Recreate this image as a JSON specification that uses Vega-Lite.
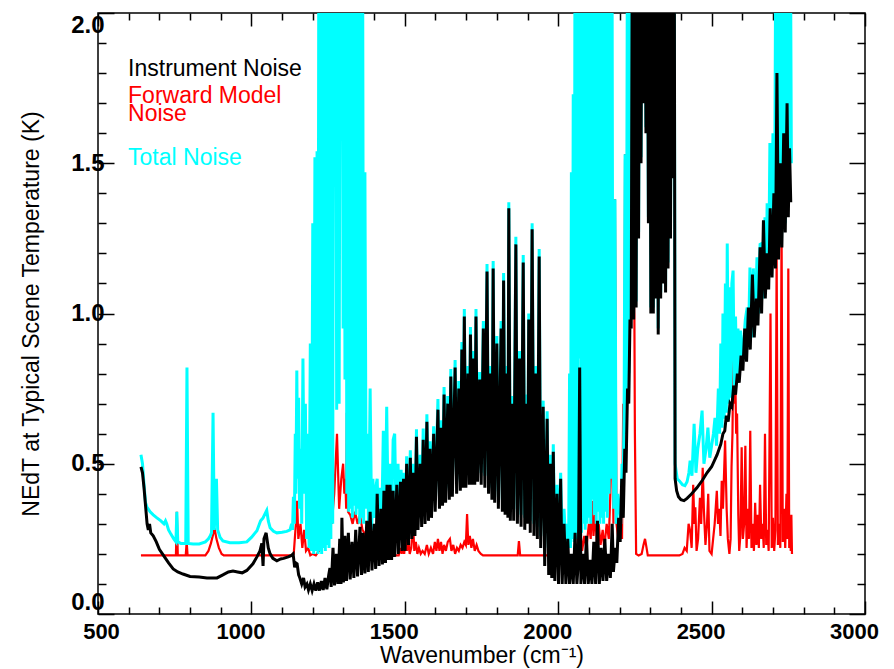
{
"$schema":"https://vega.github.io/schema/vega-lite/v6.json",
"width":767,"height":601,
"autosize":{"type":"none"},
"padding":{"left":98,"top":13,"right":29,"bottom":55},
"background":"white",
"config":{"view":{"stroke":"black","strokeWidth":1.5}},
"datasets":{
"fwd":[{"w":640,"v":0.195},{"w":754,"v":0.195},{"w":757,"v":0.34},{"w":760,"v":0.195},{"w":786,"v":0.195},{"w":789,"v":0.24},{"w":792,"v":0.195},{"w":850,"v":0.195},{"w":860,"v":0.21},{"w":868,"v":0.235},{"w":874,"v":0.26},{"w":880,"v":0.285},{"w":886,"v":0.25},{"w":894,"v":0.22},{"w":903,"v":0.2},{"w":910,"v":0.195},{"w":1130,"v":0.195},{"w":1138,"v":0.2},{"w":1145,"v":0.3},{"w":1149,"v":0.377},{"w":1153,"v":0.25},{"w":1160,"v":0.3},{"w":1166,"v":0.22},{"w":1172,"v":0.28},{"w":1178,"v":0.21},{"w":1185,"v":0.22},{"w":1192,"v":0.195},{"w":1200,"v":0.2},{"w":1210,"v":0.195},{"w":1220,"v":0.21},{"w":1230,"v":0.22},{"w":1240,"v":0.25},{"w":1246,"v":0.27},{"w":1250,"v":0.3},{"w":1256,"v":0.6},{"w":1262,"v":0.3},{"w":1270,"v":0.4},{"w":1279,"v":0.6},{"w":1286,"v":0.35},{"w":1293,"v":0.45},{"w":1299,"v":0.5},{"w":1303,"v":0.4},{"w":1306,"v":0.45},{"w":1309,"v":0.35},{"w":1311,"v":0.67},{"w":1315,"v":0.34},{"w":1322,"v":0.33},{"w":1330,"v":0.3},{"w":1338,"v":0.34},{"w":1346,"v":0.3},{"w":1354,"v":0.33},{"w":1362,"v":0.28},{"w":1370,"v":0.267},{"w":1376,"v":0.22},{"w":1385,"v":0.2},{"w":1400,"v":0.195},{"w":1480,"v":0.195},{"w":1486,"v":0.22},{"w":1490,"v":0.2},{"w":1494,"v":0.235},{"w":1498,"v":0.2},{"w":1503,"v":0.26},{"w":1507,"v":0.21},{"w":1512,"v":0.24},{"w":1516,"v":0.2},{"w":1521,"v":0.22},{"w":1527,"v":0.3},{"w":1531,"v":0.21},{"w":1536,"v":0.24},{"w":1541,"v":0.2},{"w":1546,"v":0.22},{"w":1552,"v":0.2},{"w":1558,"v":0.21},{"w":1565,"v":0.2},{"w":1572,"v":0.23},{"w":1578,"v":0.2},{"w":1585,"v":0.22},{"w":1592,"v":0.2},{"w":1598,"v":0.24},{"w":1603,"v":0.21},{"w":1608,"v":0.25},{"w":1613,"v":0.21},{"w":1618,"v":0.24},{"w":1623,"v":0.2},{"w":1628,"v":0.23},{"w":1634,"v":0.21},{"w":1640,"v":0.24},{"w":1647,"v":0.25},{"w":1652,"v":0.21},{"w":1658,"v":0.23},{"w":1664,"v":0.2},{"w":1670,"v":0.22},{"w":1676,"v":0.21},{"w":1682,"v":0.23},{"w":1688,"v":0.22},{"w":1694,"v":0.24},{"w":1699,"v":0.23},{"w":1703,"v":0.333},{"w":1707,"v":0.23},{"w":1712,"v":0.26},{"w":1717,"v":0.22},{"w":1722,"v":0.25},{"w":1728,"v":0.21},{"w":1734,"v":0.23},{"w":1740,"v":0.21},{"w":1748,"v":0.2},{"w":1755,"v":0.195},{"w":1868,"v":0.195},{"w":1872,"v":0.243},{"w":1876,"v":0.195},{"w":1990,"v":0.195},{"w":2000,"v":0.2},{"w":2010,"v":0.2},{"w":2020,"v":0.22},{"w":2030,"v":0.2},{"w":2040,"v":0.3},{"w":2048,"v":0.467},{"w":2054,"v":0.25},{"w":2060,"v":0.3},{"w":2066,"v":0.22},{"w":2072,"v":0.28},{"w":2078,"v":0.21},{"w":2085,"v":0.26},{"w":2092,"v":0.22},{"w":2100,"v":0.3},{"w":2106,"v":0.25},{"w":2110,"v":0.377},{"w":2115,"v":0.26},{"w":2120,"v":0.33},{"w":2126,"v":0.24},{"w":2132,"v":0.3},{"w":2138,"v":0.23},{"w":2145,"v":0.28},{"w":2150,"v":0.22},{"w":2158,"v":0.3},{"w":2165,"v":0.25},{"w":2170,"v":0.4},{"w":2176,"v":0.73},{"w":2180,"v":0.3},{"w":2185,"v":1.38},{"w":2190,"v":0.3},{"w":2196,"v":0.25},{"w":2202,"v":0.3},{"w":2208,"v":0.25},{"w":2212,"v":0.7},{"w":2215,"v":0.5},{"w":2218,"v":1.53},{"w":2222,"v":0.6},{"w":2228,"v":2.3},{"w":2234,"v":2.5},{"w":2240,"v":2.3},{"w":2244,"v":2.0},{"w":2250,"v":0.6},{"w":2254,"v":0.2},{"w":2262,"v":0.195},{"w":2272,"v":0.2},{"w":2278,"v":0.23},{"w":2283,"v":0.25},{"w":2288,"v":0.22},{"w":2292,"v":0.195},{"w":2395,"v":0.195},{"w":2405,"v":0.2},{"w":2412,"v":0.22},{"w":2419,"v":0.21},{"w":2425,"v":0.3},{"w":2430,"v":0.277},{"w":2435,"v":0.22},{"w":2440,"v":0.43},{"w":2444,"v":0.3},{"w":2447,"v":0.355},{"w":2451,"v":0.21},{"w":2456,"v":0.25},{"w":2462,"v":0.387},{"w":2466,"v":0.3},{"w":2471,"v":0.487},{"w":2475,"v":0.343},{"w":2480,"v":0.23},{"w":2485,"v":0.3},{"w":2489,"v":0.4},{"w":2493,"v":0.21},{"w":2500,"v":0.2},{"w":2505,"v":0.25},{"w":2510,"v":0.3},{"w":2517,"v":0.41},{"w":2521,"v":0.3},{"w":2525,"v":0.35},{"w":2529,"v":0.26},{"w":2533,"v":0.443},{"w":2537,"v":0.35},{"w":2544,"v":0.577},{"w":2549,"v":0.35},{"w":2553,"v":0.25},{"w":2558,"v":0.2},{"w":2562,"v":0.25},{"w":2565,"v":0.49},{"w":2568,"v":0.6},{"w":2571,"v":0.866},{"w":2574,"v":0.7},{"w":2577,"v":0.81},{"w":2580,"v":0.6},{"w":2583,"v":0.667},{"w":2587,"v":0.33},{"w":2590,"v":0.21},{"w":2594,"v":0.265},{"w":2598,"v":0.555},{"w":2602,"v":0.25},{"w":2606,"v":0.3},{"w":2610,"v":0.56},{"w":2614,"v":0.22},{"w":2618,"v":0.35},{"w":2622,"v":0.25},{"w":2626,"v":0.61},{"w":2630,"v":0.22},{"w":2634,"v":0.3},{"w":2638,"v":0.21},{"w":2642,"v":0.37},{"w":2646,"v":0.23},{"w":2650,"v":0.33},{"w":2654,"v":0.22},{"w":2658,"v":0.43},{"w":2662,"v":0.25},{"w":2666,"v":0.3},{"w":2670,"v":0.22},{"w":2674,"v":0.6},{"w":2678,"v":0.23},{"w":2682,"v":0.28},{"w":2686,"v":0.21},{"w":2692,"v":1.0},{"w":2696,"v":0.22},{"w":2700,"v":0.32},{"w":2704,"v":0.21},{"w":2708,"v":0.28},{"w":2712,"v":1.2},{"w":2716,"v":0.23},{"w":2720,"v":0.3},{"w":2724,"v":0.22},{"w":2728,"v":1.3},{"w":2732,"v":0.24},{"w":2736,"v":0.35},{"w":2740,"v":0.22},{"w":2744,"v":0.4},{"w":2747,"v":0.25},{"w":2750,"v":1.15},{"w":2753,"v":0.22},{"w":2756,"v":0.3},{"w":2758,"v":0.21},{"w":2760,"v":0.33},{"w":2762,"v":0.2}],
"tot":[{"w":640,"v":0.53},{"w":645,"v":0.5},{"w":650,"v":0.43},{"w":655,"v":0.37},{"w":660,"v":0.355},{"w":670,"v":0.34},{"w":680,"v":0.33},{"w":692,"v":0.32},{"w":705,"v":0.31},{"w":715,"v":0.3},{"w":720,"v":0.31},{"w":724,"v":0.3},{"w":730,"v":0.28},{"w":738,"v":0.265},{"w":747,"v":0.25},{"w":754,"v":0.24},{"w":757,"v":0.34},{"w":760,"v":0.24},{"w":770,"v":0.235},{"w":786,"v":0.235},{"w":790,"v":0.82},{"w":794,"v":0.235},{"w":810,"v":0.233},{"w":830,"v":0.233},{"w":850,"v":0.24},{"w":860,"v":0.25},{"w":866,"v":0.26},{"w":870,"v":0.27},{"w":875,"v":0.67},{"w":879,"v":0.28},{"w":886,"v":0.45},{"w":890,"v":0.28},{"w":898,"v":0.255},{"w":907,"v":0.243},{"w":930,"v":0.237},{"w":960,"v":0.237},{"w":985,"v":0.24},{"w":1000,"v":0.255},{"w":1018,"v":0.277},{"w":1030,"v":0.31},{"w":1038,"v":0.32},{"w":1045,"v":0.335},{"w":1050,"v":0.345},{"w":1055,"v":0.31},{"w":1061,"v":0.287},{"w":1072,"v":0.275},{"w":1083,"v":0.27},{"w":1100,"v":0.272},{"w":1115,"v":0.275},{"w":1126,"v":0.28},{"w":1131,"v":0.3},{"w":1134,"v":0.28},{"w":1137,"v":0.39},{"w":1140,"v":0.3},{"w":1143,"v":0.6},{"w":1145,"v":0.4},{"w":1148,"v":0.81},{"w":1151,"v":0.45},{"w":1154,"v":0.72},{"w":1157,"v":0.35},{"w":1161,"v":0.55},{"w":1164,"v":0.3},{"w":1168,"v":0.85},{"w":1172,"v":0.4},{"w":1176,"v":0.7},{"w":1180,"v":0.25},{"w":1184,"v":0.6},{"w":1188,"v":0.22},{"w":1192,"v":0.9},{"w":1196,"v":0.21},{"w":1200,"v":1.3},{"w":1203,"v":0.2},{"w":1207,"v":1.52},{"w":1210,"v":0.21},{"w":1214,"v":1.54},{"w":1217,"v":0.2},{"w":1220,"v":2.5},{"w":1223,"v":0.21},{"w":1226,"v":2.5},{"w":1229,"v":0.2},{"w":1232,"v":2.5},{"w":1235,"v":0.22},{"w":1238,"v":2.5},{"w":1241,"v":0.21},{"w":1244,"v":2.5},{"w":1247,"v":0.23},{"w":1250,"v":2.5},{"w":1253,"v":0.22},{"w":1256,"v":2.5},{"w":1259,"v":0.25},{"w":1262,"v":2.5},{"w":1265,"v":0.3},{"w":1268,"v":2.5},{"w":1271,"v":1.67},{"w":1274,"v":2.5},{"w":1278,"v":0.68},{"w":1282,"v":2.5},{"w":1286,"v":0.7},{"w":1290,"v":2.5},{"w":1293,"v":1.9},{"w":1296,"v":2.5},{"w":1299,"v":0.95},{"w":1302,"v":2.5},{"w":1305,"v":0.78},{"w":1308,"v":2.5},{"w":1311,"v":0.4},{"w":1314,"v":2.5},{"w":1317,"v":0.34},{"w":1320,"v":2.5},{"w":1323,"v":0.35},{"w":1326,"v":2.5},{"w":1329,"v":0.32},{"w":1332,"v":2.5},{"w":1335,"v":0.36},{"w":1338,"v":2.5},{"w":1341,"v":0.33},{"w":1344,"v":2.5},{"w":1347,"v":0.35},{"w":1350,"v":2.5},{"w":1353,"v":0.3},{"w":1356,"v":2.5},{"w":1359,"v":0.32},{"w":1362,"v":2.5},{"w":1366,"v":0.3},{"w":1370,"v":1.47},{"w":1374,"v":0.35},{"w":1378,"v":0.6},{"w":1382,"v":0.25},{"w":1387,"v":0.75},{"w":1392,"v":0.28},{"w":1396,"v":0.45},{"w":1400,"v":0.32},{"w":1405,"v":0.42},{"w":1410,"v":0.45},{"w":1415,"v":0.26},{"w":1420,"v":0.42},{"w":1425,"v":0.3},{"w":1430,"v":0.61},{"w":1436,"v":0.3},{"w":1441,"v":0.69},{"w":1446,"v":0.32},{"w":1452,"v":0.5},{"w":1457,"v":0.3},{"w":1462,"v":0.58},{"w":1467,"v":0.6},{"w":1472,"v":0.3},{"w":1478,"v":0.5},{"w":1483,"v":0.3},{"w":1488,"v":0.48},{"w":1492,"v":0.3},{"w":1496,"v":0.47},{"w":1501,"v":0.25},{"w":1506,"v":0.525},{"w":1512,"v":0.27},{"w":1518,"v":0.545},{"w":1523,"v":0.29},{"w":1528,"v":0.5},{"w":1533,"v":0.3},{"w":1538,"v":0.615},{"w":1543,"v":0.32},{"w":1550,"v":0.53},{"w":1555,"v":0.33},{"w":1560,"v":0.617},{"w":1566,"v":0.34},{"w":1572,"v":0.665},{"w":1577,"v":0.35},{"w":1582,"v":0.575},{"w":1587,"v":0.36},{"w":1594,"v":0.625},{"w":1599,"v":0.38},{"w":1608,"v":0.715},{"w":1613,"v":0.39},{"w":1618,"v":0.645},{"w":1623,"v":0.4},{"w":1628,"v":0.755},{"w":1633,"v":0.41},{"w":1640,"v":0.725},{"w":1645,"v":0.42},{"w":1650,"v":0.815},{"w":1655,"v":0.43},{"w":1664,"v":0.845},{"w":1669,"v":0.44},{"w":1676,"v":0.775},{"w":1681,"v":0.45},{"w":1686,"v":0.905},{"w":1690,"v":0.46},{"w":1694,"v":1.015},{"w":1699,"v":0.46},{"w":1706,"v":0.825},{"w":1710,"v":0.47},{"w":1714,"v":0.955},{"w":1719,"v":0.47},{"w":1724,"v":0.875},{"w":1728,"v":0.47},{"w":1732,"v":1.015},{"w":1737,"v":0.48},{"w":1744,"v":0.805},{"w":1749,"v":0.47},{"w":1756,"v":0.975},{"w":1761,"v":0.46},{"w":1768,"v":1.165},{"w":1773,"v":0.44},{"w":1780,"v":0.825},{"w":1784,"v":0.42},{"w":1788,"v":1.175},{"w":1793,"v":0.41},{"w":1800,"v":0.925},{"w":1805,"v":0.39},{"w":1814,"v":0.975},{"w":1818,"v":0.38},{"w":1822,"v":1.135},{"w":1827,"v":0.37},{"w":1832,"v":0.825},{"w":1836,"v":0.36},{"w":1839,"v":1.37},{"w":1844,"v":0.35},{"w":1850,"v":0.725},{"w":1855,"v":0.35},{"w":1862,"v":1.255},{"w":1867,"v":0.34},{"w":1874,"v":0.875},{"w":1879,"v":0.33},{"w":1886,"v":1.195},{"w":1891,"v":0.32},{"w":1896,"v":0.73},{"w":1900,"v":0.34},{"w":1904,"v":1.0},{"w":1909,"v":0.31},{"w":1915,"v":1.3},{"w":1921,"v":0.3},{"w":1927,"v":0.825},{"w":1932,"v":0.29},{"w":1938,"v":1.215},{"w":1943,"v":0.26},{"w":1951,"v":0.71},{"w":1956,"v":0.22},{"w":1964,"v":0.675},{"w":1969,"v":0.22},{"w":1975,"v":0.53},{"w":1979,"v":0.22},{"w":1984,"v":0.565},{"w":1989,"v":0.22},{"w":1996,"v":0.43},{"w":2001,"v":0.22},{"w":2008,"v":0.47},{"w":2013,"v":0.22},{"w":2019,"v":0.35},{"w":2025,"v":0.23},{"w":2031,"v":0.3},{"w":2034,"v":0.22},{"w":2037,"v":0.8},{"w":2040,"v":0.22},{"w":2043,"v":1.47},{"w":2046,"v":0.25},{"w":2049,"v":1.73},{"w":2052,"v":0.24},{"w":2055,"v":2.5},{"w":2058,"v":0.25},{"w":2061,"v":2.5},{"w":2064,"v":0.28},{"w":2067,"v":2.5},{"w":2070,"v":0.85},{"w":2073,"v":2.5},{"w":2076,"v":0.27},{"w":2079,"v":2.5},{"w":2082,"v":0.3},{"w":2085,"v":2.5},{"w":2088,"v":0.28},{"w":2091,"v":2.5},{"w":2094,"v":0.3},{"w":2097,"v":2.5},{"w":2100,"v":0.32},{"w":2103,"v":2.5},{"w":2106,"v":0.3},{"w":2109,"v":2.5},{"w":2112,"v":0.38},{"w":2115,"v":2.5},{"w":2118,"v":0.33},{"w":2121,"v":2.5},{"w":2124,"v":0.3},{"w":2127,"v":2.5},{"w":2130,"v":0.34},{"w":2133,"v":2.5},{"w":2136,"v":0.3},{"w":2139,"v":2.5},{"w":2142,"v":0.32},{"w":2145,"v":2.5},{"w":2148,"v":0.3},{"w":2151,"v":2.5},{"w":2154,"v":0.34},{"w":2157,"v":2.5},{"w":2160,"v":0.32},{"w":2163,"v":2.5},{"w":2166,"v":0.4},{"w":2169,"v":2.5},{"w":2172,"v":0.45},{"w":2175,"v":2.5},{"w":2178,"v":0.73},{"w":2181,"v":0.35},{"w":2185,"v":1.38},{"w":2189,"v":0.3},{"w":2194,"v":0.4},{"w":2199,"v":0.35},{"w":2204,"v":0.3},{"w":2208,"v":0.5},{"w":2212,"v":0.45},{"w":2215,"v":0.7},{"w":2218,"v":1.53},{"w":2222,"v":0.6},{"w":2226,"v":2.5},{"w":2230,"v":0.8},{"w":2234,"v":2.5},{"w":2238,"v":1.0},{"w":2242,"v":2.5},{"w":2246,"v":1.0},{"w":2250,"v":2.5},{"w":2254,"v":1.04},{"w":2258,"v":2.5},{"w":2262,"v":1.27},{"w":2266,"v":2.5},{"w":2270,"v":1.52},{"w":2274,"v":2.5},{"w":2278,"v":1.72},{"w":2282,"v":2.5},{"w":2286,"v":1.62},{"w":2290,"v":2.5},{"w":2294,"v":1.32},{"w":2298,"v":2.5},{"w":2302,"v":1.02},{"w":2306,"v":2.5},{"w":2310,"v":1.02},{"w":2314,"v":2.5},{"w":2318,"v":1.07},{"w":2322,"v":2.5},{"w":2326,"v":0.95},{"w":2330,"v":2.5},{"w":2334,"v":1.07},{"w":2338,"v":2.5},{"w":2342,"v":1.12},{"w":2346,"v":2.5},{"w":2350,"v":1.09},{"w":2354,"v":2.5},{"w":2358,"v":1.17},{"w":2362,"v":2.5},{"w":2366,"v":1.27},{"w":2370,"v":2.5},{"w":2374,"v":1.47},{"w":2378,"v":2.5},{"w":2381,"v":0.5},{"w":2388,"v":0.45},{"w":2395,"v":0.443},{"w":2405,"v":0.43},{"w":2413,"v":0.427},{"w":2420,"v":0.44},{"w":2426,"v":0.47},{"w":2430,"v":0.51},{"w":2436,"v":0.46},{"w":2443,"v":0.633},{"w":2449,"v":0.47},{"w":2455,"v":0.55},{"w":2462,"v":0.6},{"w":2469,"v":0.677},{"w":2475,"v":0.5},{"w":2482,"v":0.55},{"w":2488,"v":0.62},{"w":2494,"v":0.52},{"w":2500,"v":0.56},{"w":2506,"v":0.6},{"w":2511,"v":0.653},{"w":2516,"v":0.56},{"w":2522,"v":0.75},{"w":2526,"v":0.6},{"w":2530,"v":0.9},{"w":2534,"v":0.62},{"w":2537,"v":1.0},{"w":2541,"v":0.65},{"w":2545,"v":1.1},{"w":2548,"v":0.67},{"w":2551,"v":1.233},{"w":2555,"v":0.7},{"w":2558,"v":1.087},{"w":2562,"v":0.72},{"w":2566,"v":1.1},{"w":2570,"v":1.143},{"w":2574,"v":0.76},{"w":2578,"v":0.99},{"w":2582,"v":0.78},{"w":2586,"v":0.95},{"w":2590,"v":0.8},{"w":2594,"v":0.943},{"w":2598,"v":0.86},{"w":2604,"v":0.9},{"w":2610,"v":0.98},{"w":2616,"v":1.02},{"w":2620,"v":0.9},{"w":2625,"v":1.153},{"w":2630,"v":0.92},{"w":2636,"v":1.15},{"w":2642,"v":0.98},{"w":2648,"v":1.187},{"w":2654,"v":1.0},{"w":2658,"v":1.23},{"w":2664,"v":1.233},{"w":2668,"v":1.05},{"w":2674,"v":1.32},{"w":2678,"v":1.1},{"w":2681,"v":1.367},{"w":2686,"v":1.12},{"w":2690,"v":1.567},{"w":2695,"v":1.15},{"w":2700,"v":1.6},{"w":2705,"v":1.16},{"w":2710,"v":2.5},{"w":2716,"v":1.2},{"w":2722,"v":2.5},{"w":2728,"v":1.25},{"w":2734,"v":2.0},{"w":2740,"v":1.3},{"w":2746,"v":2.5},{"w":2752,"v":1.38},{"w":2756,"v":2.5},{"w":2760,"v":1.5}],
"inst":[{"w":640,"v":0.49},{"w":645,"v":0.47},{"w":650,"v":0.42},{"w":655,"v":0.36},{"w":660,"v":0.3},{"w":664,"v":0.28},{"w":668,"v":0.3},{"w":672,"v":0.27},{"w":680,"v":0.26},{"w":690,"v":0.24},{"w":700,"v":0.215},{"w":710,"v":0.2},{"w":720,"v":0.185},{"w":730,"v":0.17},{"w":745,"v":0.15},{"w":760,"v":0.14},{"w":777,"v":0.133},{"w":800,"v":0.125},{"w":830,"v":0.123},{"w":855,"v":0.12},{"w":888,"v":0.12},{"w":907,"v":0.13},{"w":925,"v":0.14},{"w":940,"v":0.143},{"w":955,"v":0.14},{"w":970,"v":0.137},{"w":985,"v":0.145},{"w":1005,"v":0.167},{"w":1018,"v":0.19},{"w":1028,"v":0.21},{"w":1034,"v":0.235},{"w":1038,"v":0.16},{"w":1041,"v":0.25},{"w":1048,"v":0.27},{"w":1055,"v":0.22},{"w":1061,"v":0.2},{"w":1070,"v":0.185},{"w":1083,"v":0.177},{"w":1095,"v":0.183},{"w":1105,"v":0.185},{"w":1120,"v":0.19},{"w":1131,"v":0.195},{"w":1136,"v":0.2},{"w":1141,"v":0.155},{"w":1145,"v":0.17},{"w":1149,"v":0.167},{"w":1154,"v":0.13},{"w":1158,"v":0.12},{"w":1164,"v":0.1},{"w":1170,"v":0.12},{"w":1175,"v":0.09},{"w":1181,"v":0.1},{"w":1186,"v":0.08},{"w":1192,"v":0.1},{"w":1198,"v":0.078},{"w":1204,"v":0.1},{"w":1210,"v":0.078},{"w":1216,"v":0.105},{"w":1222,"v":0.078},{"w":1228,"v":0.11},{"w":1234,"v":0.08},{"w":1240,"v":0.12},{"w":1246,"v":0.082},{"w":1252,"v":0.13},{"w":1256,"v":0.153},{"w":1260,"v":0.09},{"w":1266,"v":0.22},{"w":1271,"v":0.095},{"w":1277,"v":0.2},{"w":1282,"v":0.1},{"w":1288,"v":0.25},{"w":1292,"v":0.1},{"w":1295,"v":0.32},{"w":1300,"v":0.105},{"w":1305,"v":0.26},{"w":1310,"v":0.11},{"w":1316,"v":0.27},{"w":1322,"v":0.115},{"w":1328,"v":0.24},{"w":1334,"v":0.12},{"w":1340,"v":0.28},{"w":1346,"v":0.125},{"w":1354,"v":0.29},{"w":1359,"v":0.13},{"w":1364,"v":0.27},{"w":1370,"v":0.135},{"w":1376,"v":0.31},{"w":1381,"v":0.14},{"w":1387,"v":0.34},{"w":1393,"v":0.145},{"w":1400,"v":0.3},{"w":1405,"v":0.15},{"w":1410,"v":0.4},{"w":1416,"v":0.16},{"w":1422,"v":0.35},{"w":1427,"v":0.165},{"w":1432,"v":0.41},{"w":1437,"v":0.17},{"w":1442,"v":0.43},{"w":1447,"v":0.18},{"w":1452,"v":0.43},{"w":1457,"v":0.18},{"w":1462,"v":0.41},{"w":1467,"v":0.19},{"w":1474,"v":0.43},{"w":1479,"v":0.2},{"w":1486,"v":0.44},{"w":1491,"v":0.21},{"w":1496,"v":0.45},{"w":1501,"v":0.21},{"w":1506,"v":0.5},{"w":1512,"v":0.23},{"w":1518,"v":0.52},{"w":1523,"v":0.25},{"w":1528,"v":0.47},{"w":1533,"v":0.26},{"w":1538,"v":0.59},{"w":1543,"v":0.28},{"w":1550,"v":0.5},{"w":1555,"v":0.29},{"w":1560,"v":0.58},{"w":1566,"v":0.3},{"w":1572,"v":0.64},{"w":1577,"v":0.31},{"w":1582,"v":0.55},{"w":1587,"v":0.32},{"w":1594,"v":0.6},{"w":1599,"v":0.34},{"w":1608,"v":0.68},{"w":1613,"v":0.35},{"w":1618,"v":0.62},{"w":1623,"v":0.36},{"w":1628,"v":0.73},{"w":1633,"v":0.37},{"w":1640,"v":0.7},{"w":1645,"v":0.38},{"w":1650,"v":0.79},{"w":1655,"v":0.39},{"w":1664,"v":0.82},{"w":1669,"v":0.4},{"w":1676,"v":0.75},{"w":1681,"v":0.41},{"w":1686,"v":0.88},{"w":1690,"v":0.42},{"w":1694,"v":0.99},{"w":1699,"v":0.42},{"w":1706,"v":0.8},{"w":1710,"v":0.43},{"w":1714,"v":0.93},{"w":1719,"v":0.43},{"w":1724,"v":0.85},{"w":1728,"v":0.43},{"w":1732,"v":0.99},{"w":1737,"v":0.44},{"w":1744,"v":0.78},{"w":1749,"v":0.43},{"w":1756,"v":0.95},{"w":1761,"v":0.42},{"w":1768,"v":1.14},{"w":1773,"v":0.4},{"w":1780,"v":0.8},{"w":1784,"v":0.38},{"w":1788,"v":1.15},{"w":1793,"v":0.37},{"w":1800,"v":0.9},{"w":1805,"v":0.35},{"w":1814,"v":0.95},{"w":1818,"v":0.34},{"w":1822,"v":1.11},{"w":1827,"v":0.33},{"w":1832,"v":0.8},{"w":1836,"v":0.32},{"w":1839,"v":1.35},{"w":1844,"v":0.31},{"w":1850,"v":0.7},{"w":1855,"v":0.31},{"w":1862,"v":1.23},{"w":1867,"v":0.3},{"w":1874,"v":0.85},{"w":1879,"v":0.29},{"w":1886,"v":1.17},{"w":1891,"v":0.28},{"w":1896,"v":0.7},{"w":1900,"v":0.3},{"w":1904,"v":0.98},{"w":1909,"v":0.27},{"w":1915,"v":1.28},{"w":1921,"v":0.26},{"w":1927,"v":0.8},{"w":1932,"v":0.25},{"w":1938,"v":1.19},{"w":1943,"v":0.22},{"w":1951,"v":0.69},{"w":1956,"v":0.16},{"w":1964,"v":0.65},{"w":1969,"v":0.13},{"w":1975,"v":0.5},{"w":1979,"v":0.12},{"w":1984,"v":0.54},{"w":1989,"v":0.11},{"w":1996,"v":0.4},{"w":2001,"v":0.1},{"w":2008,"v":0.45},{"w":2013,"v":0.1},{"w":2019,"v":0.3},{"w":2025,"v":0.1},{"w":2031,"v":0.25},{"w":2037,"v":0.1},{"w":2043,"v":0.2},{"w":2049,"v":0.1},{"w":2055,"v":0.27},{"w":2061,"v":0.1},{"w":2066,"v":0.18},{"w":2070,"v":0.82},{"w":2074,"v":0.1},{"w":2080,"v":0.2},{"w":2086,"v":0.1},{"w":2092,"v":0.26},{"w":2098,"v":0.1},{"w":2104,"v":0.18},{"w":2110,"v":0.1},{"w":2116,"v":0.24},{"w":2122,"v":0.1},{"w":2128,"v":0.31},{"w":2134,"v":0.1},{"w":2140,"v":0.22},{"w":2146,"v":0.11},{"w":2152,"v":0.25},{"w":2158,"v":0.11},{"w":2164,"v":0.2},{"w":2170,"v":0.12},{"w":2176,"v":0.3},{"w":2180,"v":0.14},{"w":2186,"v":0.22},{"w":2191,"v":0.17},{"w":2197,"v":0.32},{"w":2202,"v":0.24},{"w":2207,"v":0.45},{"w":2212,"v":0.32},{"w":2217,"v":0.55},{"w":2221,"v":0.47},{"w":2226,"v":0.75},{"w":2230,"v":0.7},{"w":2234,"v":0.98},{"w":2238,"v":0.95},{"w":2242,"v":2.5},{"w":2246,"v":0.98},{"w":2250,"v":2.5},{"w":2254,"v":1.02},{"w":2258,"v":2.5},{"w":2262,"v":1.25},{"w":2266,"v":2.5},{"w":2270,"v":1.5},{"w":2274,"v":2.5},{"w":2278,"v":1.7},{"w":2282,"v":2.5},{"w":2286,"v":1.6},{"w":2290,"v":2.5},{"w":2294,"v":1.3},{"w":2298,"v":2.5},{"w":2302,"v":1.0},{"w":2306,"v":2.5},{"w":2310,"v":1.0},{"w":2314,"v":2.5},{"w":2318,"v":1.05},{"w":2322,"v":2.5},{"w":2326,"v":0.93},{"w":2330,"v":2.5},{"w":2334,"v":1.05},{"w":2338,"v":2.5},{"w":2342,"v":1.1},{"w":2346,"v":2.5},{"w":2350,"v":1.07},{"w":2354,"v":2.5},{"w":2358,"v":1.15},{"w":2362,"v":2.5},{"w":2366,"v":1.25},{"w":2370,"v":2.5},{"w":2374,"v":1.45},{"w":2378,"v":2.5},{"w":2381,"v":0.45},{"w":2386,"v":0.41},{"w":2392,"v":0.39},{"w":2400,"v":0.38},{"w":2410,"v":0.377},{"w":2420,"v":0.385},{"w":2435,"v":0.4},{"w":2452,"v":0.42},{"w":2470,"v":0.445},{"w":2485,"v":0.47},{"w":2500,"v":0.49},{"w":2518,"v":0.53},{"w":2530,"v":0.565},{"w":2537,"v":0.6},{"w":2543,"v":0.61},{"w":2548,"v":0.66},{"w":2554,"v":0.64},{"w":2560,"v":0.7},{"w":2566,"v":0.69},{"w":2572,"v":0.76},{"w":2578,"v":0.73},{"w":2584,"v":0.8},{"w":2590,"v":0.77},{"w":2596,"v":0.86},{"w":2602,"v":0.81},{"w":2608,"v":0.95},{"w":2614,"v":0.84},{"w":2620,"v":1.02},{"w":2626,"v":0.88},{"w":2633,"v":1.13},{"w":2639,"v":0.92},{"w":2646,"v":1.05},{"w":2651,"v":0.96},{"w":2658,"v":1.22},{"w":2663,"v":1.0},{"w":2669,"v":1.31},{"w":2675,"v":1.05},{"w":2681,"v":1.2},{"w":2686,"v":1.08},{"w":2691,"v":1.35},{"w":2697,"v":1.12},{"w":2703,"v":1.4},{"w":2708,"v":1.15},{"w":2713,"v":1.8},{"w":2718,"v":1.18},{"w":2724,"v":1.5},{"w":2729,"v":1.22},{"w":2735,"v":1.6},{"w":2740,"v":1.27},{"w":2746,"v":1.7},{"w":2750,"v":1.32},{"w":2754,"v":1.55},{"w":2758,"v":1.37}],
"labels":[{"t":"Instrument Noise","s":"Instrument Noise","w":598,"v":1.79},{"t":"Forward Model\nNoise","s":"Forward Model Noise","w":598,"v":1.7},{"t":"Total Noise","s":"Total Noise","w":598,"v":1.495}]
},
"resolve":{"axis":{"x":"independent","y":"independent"}},
"layer":[
{"data":{"name":"fwd"},"mark":{"type":"line","color":"#ff0000","strokeWidth":2.2,"clip":true},
 "encoding":{
  "x":{"field":"w","type":"quantitative","scale":{"domain":[500,3000],"nice":false,"zero":false},
   "axis":{"orient":"bottom","values":[500,600,700,800,900,1000,1100,1200,1300,1400,1500,1600,1700,1800,1900,2000,2100,2200,2300,2400,2500,2600,2700,2800,2900,3000],
    "labelExpr":"datum.value % 500 === 0 ? datum.label : ''","format":"d","labelOverlap":false,"labelFlush":false,
    "labelOffset":{"condition":{"test":"datum.value === 500","value":3},"value":-11},
    "tickSize":{"condition":{"test":"datum.value % 500 === 0","value":-13},"value":-7},
    "tickColor":"black","tickWidth":1.5,"domain":false,"grid":false,
    "labelFont":"Liberation Sans","labelFontWeight":"bold","labelFontSize":22,"labelColor":"black","labelPadding":20,
    "title":"Wavenumber (cm⁻¹)","titleFont":"Liberation Sans","titleFontWeight":"normal","titleFontSize":23,"titleColor":"black","titlePadding":-4}},
  "y":{"field":"v","type":"quantitative","scale":{"domain":[0,2],"nice":false,"zero":false},
   "axis":{"orient":"left","values":[0,0.1,0.2,0.3,0.4,0.5,0.6,0.7,0.8,0.9,1,1.1,1.2,1.3,1.4,1.5,1.6,1.7,1.8,1.9,2],
    "labelExpr":"abs(datum.value*2 - round(datum.value*2)) < 0.000001 ? format(datum.value, '.1f') : ''","labelOverlap":false,"labelFlush":true,
    "tickSize":{"condition":{"test":"abs(datum.value*2 - round(datum.value*2)) < 0.000001","value":-16},"value":-8},
    "tickColor":"black","tickWidth":1.5,"domain":false,"grid":false,
    "labelFont":"Liberation Sans","labelFontWeight":"bold","labelFontSize":24,"labelColor":"black","labelPadding":10,
    "title":"NEdT at Typical Scene Temperature (K)","titleFont":"Liberation Sans","titleFontWeight":"normal","titleFontSize":23,"titleColor":"black","titlePadding":27}}
 }},
{"data":{"name":"tot"},"mark":{"type":"line","color":"#00ffff","strokeWidth":3,"clip":true},
 "encoding":{
  "x":{"field":"w","type":"quantitative","scale":{"domain":[500,3000],"nice":false,"zero":false},
   "axis":{"orient":"top","values":[500,600,700,800,900,1000,1100,1200,1300,1400,1500,1600,1700,1800,1900,2000,2100,2200,2300,2400,2500,2600,2700,2800,2900,3000],
    "labels":false,"title":null,"domain":false,"grid":false,"tickColor":"black","tickWidth":1.5,
    "tickSize":{"condition":{"test":"datum.value % 500 === 0","value":-13},"value":-7}}},
  "y":{"field":"v","type":"quantitative","scale":{"domain":[0,2],"nice":false,"zero":false},
   "axis":{"orient":"right","values":[0,0.1,0.2,0.3,0.4,0.5,0.6,0.7,0.8,0.9,1,1.1,1.2,1.3,1.4,1.5,1.6,1.7,1.8,1.9,2],
    "labels":false,"title":null,"domain":false,"grid":false,"tickColor":"black","tickWidth":1.5,
    "tickSize":{"condition":{"test":"abs(datum.value*2 - round(datum.value*2)) < 0.000001","value":-16},"value":-8}}}
 }},
{"data":{"name":"inst"},"mark":{"type":"line","color":"#000000","strokeWidth":3,"clip":true},
 "encoding":{
  "x":{"field":"w","type":"quantitative","scale":{"domain":[500,3000],"nice":false,"zero":false},"axis":null},
  "y":{"field":"v","type":"quantitative","scale":{"domain":[0,2],"nice":false,"zero":false},"axis":null}
 }},
{"data":{"name":"labels"},"mark":{"type":"text","align":"left","baseline":"alphabetic","font":"Liberation Sans","fontSize":23,"lineBreak":"\n","lineHeight":18},
 "encoding":{
  "x":{"field":"w","type":"quantitative","scale":{"domain":[500,3000],"nice":false,"zero":false},"axis":null},
  "y":{"field":"v","type":"quantitative","scale":{"domain":[0,2],"nice":false,"zero":false},"axis":null},
  "text":{"field":"t"},
  "color":{"field":"s","type":"nominal","scale":{"domain":["Instrument Noise","Forward Model Noise","Total Noise"],"range":["#000000","#ff0000","#00ffff"]},"legend":null}
 }}
]
}
